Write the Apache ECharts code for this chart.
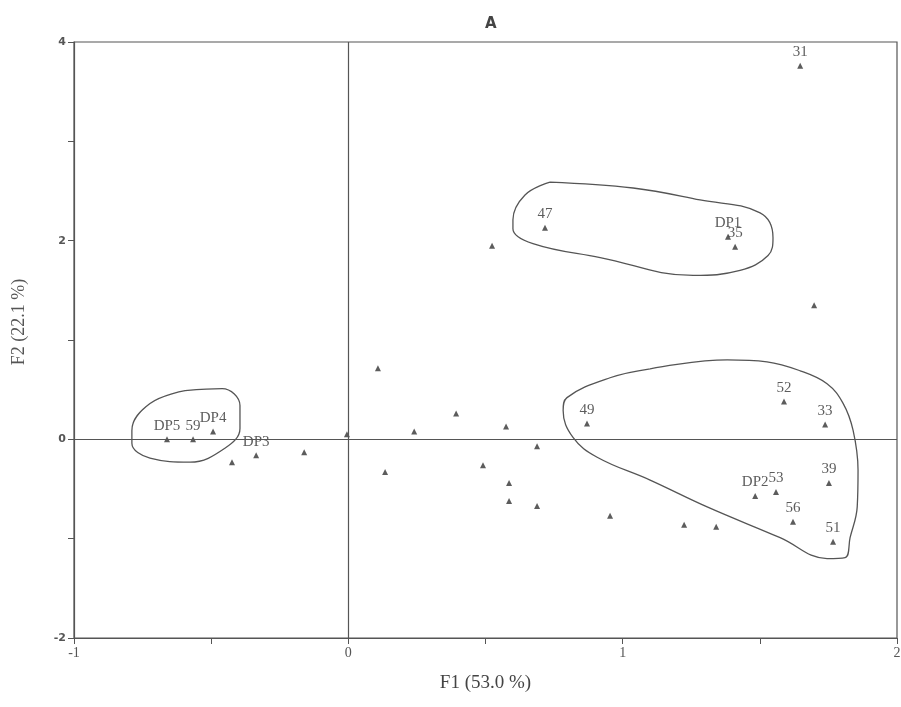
<!DOCTYPE html>
<html>
<head>
<meta charset="utf-8">
<script src="https://cdn.jsdelivr.net/npm/echarts@6/dist/echarts.min.js"></script>
<style>
  html, body { margin: 0; padding: 0; background: #fff; }
  #chart { width: 901px; height: 707px; }
</style>
</head>
<body>
<div id="chart"></div>
<script>
// sample labels and factor scores
var names = ['31', '47', 'DP1', '35', '', '', '', '', '', '', '', '49', '', '', '', '', '', '',
  'DP5', '59', 'DP4', 'DP3', '', '', '', '52', '33', '39', 'DP2', '53', '56', '51', '', ''];
var f1 = [1.647, 0.717, 1.384, 1.41, 0.524, 1.698, 0.108, 0.393, 0.24, 0.575, 0.688, 0.870, 0.134, 0.491, 0.586, 0.586, 0.688, 0.954,
  -0.661, -0.566, -0.493, -0.336, -0.424, -0.161, -0.005, 1.588, 1.738, 1.752, 1.483, 1.559, 1.621, 1.767, 1.224, 1.341];
var f2 = [3.76, 2.13, 2.04, 1.94, 1.95, 1.35, 0.715, 0.26, 0.08, 0.13, -0.07, 0.16, -0.33, -0.26, -0.44, -0.62, -0.67, -0.77,
  0.0, 0.0, 0.08, -0.16, -0.23, -0.13, 0.05, 0.38, 0.15, -0.44, -0.57, -0.53, -0.83, -1.03, -0.86, -0.88];

// hand drawn group outlines (F1, F2)
var groupLeftX = [-0.595, -0.460, -0.395, -0.395, -0.450, -0.577, -0.723, -0.789, -0.789, -0.723, -0.595];
var groupLeftY = [0.49, 0.51, 0.34, 0.11, -0.09, -0.23, -0.19, -0.04, 0.09, 0.36, 0.49];
var groupTopX = [0.735, 1.038, 1.282, 1.501, 1.548, 1.530, 1.428, 1.257, 0.918, 0.673, 0.600, 0.600, 0.644, 0.735];
var groupTopY = [2.59, 2.53, 2.41, 2.28, 2.03, 1.85, 1.70, 1.65, 1.83, 1.97, 2.12, 2.21, 2.46, 2.59];
var groupRightX = [1.100, 1.381, 1.526, 1.647, 1.745, 1.804, 1.840, 1.858, 1.855, 1.829, 1.811, 1.745, 1.574, 1.308, 1.100, 0.907, 0.819, 0.783, 0.797, 0.954, 1.100];
var groupRightY = [0.71, 0.80, 0.78, 0.69, 0.56, 0.36, 0.09, -0.31, -0.68, -0.99, -1.19, -1.20, -0.99, -0.68, -0.41, -0.18, 0.02, 0.29, 0.42, 0.62, 0.71];

var xTicks = [-1, 0, 1, 2];
var yTicks = [-2, 0, 2, 4];

function zip(a, b) {
  return a.map(function (v, i) { return [v, b[i]]; });
}

var points = f1.map(function (v, i) { return { value: [v, f2[i]], name: names[i] }; });

function outline(xs, ys) {
  return {
    type: 'line',
    data: zip(xs, ys),
    smooth: 0.4,
    showSymbol: false,
    silent: true,
    lineStyle: { color: '#555', width: 1.3 },
    z: 1
  };
}

var chart = echarts.init(document.getElementById('chart'));
chart.setOption({
  backgroundColor: '#fff',
  animation: false,
  title: {
    text: 'A',
    left: 480,
    top: 12,
    textStyle: { fontFamily: 'DejaVu Sans', fontSize: 15, fontWeight: 'bold', color: '#444' }
  },
  grid: {
    left: 74, right: 4, top: 42, bottom: 69,
    outerBoundsMode: 'none',
    containLabel: false,
    show: true, borderColor: '#555', borderWidth: 1.2
  },
  xAxis: {
    type: 'value', min: -1, max: 2, interval: 0.5,
    name: 'F1 (53.0 %)', nameLocation: 'middle', nameGap: 36,
    nameTextStyle: { fontFamily: 'Liberation Serif', fontSize: 19, color: '#444' },
    axisLine: { onZero: false, lineStyle: { color: '#555', width: 1.2 } },
    axisTick: { length: 6, lineStyle: { color: '#555' } },
    axisLabel: {
      fontFamily: 'Liberation Serif', fontSize: 14, color: '#555', margin: 8,
      formatter: function (v) { return xTicks.indexOf(v) >= 0 ? String(v) : ''; }
    },
    splitLine: { show: false }
  },
  yAxis: {
    type: 'value', min: -2, max: 4, interval: 1,
    name: 'F2 (22.1 %)', nameLocation: 'middle', nameGap: 46, nameRotate: 90,
    nameTextStyle: { fontFamily: 'Liberation Serif', fontSize: 18, color: '#555', padding: [0, 0, 0, 36] },
    axisLine: { onZero: false, lineStyle: { color: '#555', width: 1.2 } },
    axisTick: { length: 6, lineStyle: { color: '#555' } },
    axisLabel: {
      fontFamily: 'DejaVu Sans', fontSize: 11, fontWeight: 'bold', color: '#555', margin: 8,
      formatter: function (v) { return yTicks.indexOf(v) >= 0 ? String(v) : ''; }
    },
    splitLine: { show: false }
  },
  series: [
    {
      type: 'scatter',
      data: points,
      symbol: 'triangle',
      symbolSize: 6,
      itemStyle: { color: '#333' },
      label: {
        show: true,
        position: 'top',
        distance: 3,
        formatter: function (p) { return p.name; },
        fontFamily: 'Liberation Serif',
        fontSize: 15,
        color: '#333'
      },
      markLine: {
        silent: true,
        symbol: 'none',
        label: { show: false },
        lineStyle: { color: '#555', type: 'solid', width: 1.2 },
        data: [{ xAxis: 0 }, { yAxis: 0 }]
      },
      z: 3
    },
    outline(groupLeftX, groupLeftY),
    outline(groupTopX, groupTopY),
    outline(groupRightX, groupRightY)
  ]
});
</script>
</body>
</html>
